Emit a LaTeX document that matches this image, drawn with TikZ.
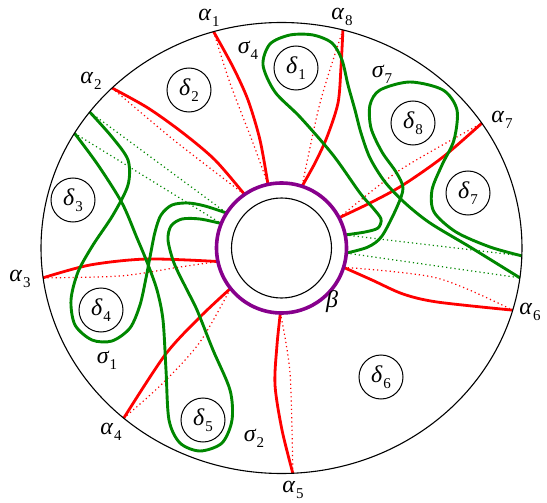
\documentclass[tikz,border=0pt]{standalone}
\usepackage{fontspec}
\setmainfont{Liberation Serif}
\usetikzlibrary{calc}
\definecolor{rd}{RGB}{255,0,0}
\definecolor{gr}{RGB}{0,135,0}
\definecolor{pu}{RGB}{135,0,140}
\newcommand\lab[2]{{\fontsize{24}{28}\selectfont\itshape #1}\kern1pt\raisebox{-6pt}{\fontsize{15}{18}\selectfont #2}}
\begin{document}
\begin{tikzpicture}[x=1pt,y=-1pt,
  redc/.style={draw=rd,line width=2.8pt},
  redd/.style={draw=rd,line width=1.2pt,dash pattern=on 1.2pt off 3pt},
  grc/.style={draw=gr,line width=2.9pt},
  grd/.style={draw=gr,line width=1.2pt,dash pattern=on 1.2pt off 3pt},
  dlt/.style={circle,draw,line width=1pt,minimum size=44pt,inner sep=0pt},
  lbl/.style={inner sep=0pt},
]
\useasboundingbox (0,0) rectangle (547,503);
\coordinate (O) at (281.5,248);
% points on the outer ellipse
\coordinate (A1o) at ($(O)+(-106.4:240.5 and 225.5)$);
\coordinate (A2o) at ($(O)+(-134.8:240.5 and 225.5)$);
\coordinate (A3o) at ($(O)+(172.4:240.5 and 225.5)$);
\coordinate (A4o) at ($(O)+(131:240.5 and 225.5)$);
\coordinate (A5o) at ($(O)+(87.3:240.5 and 225.5)$);
\coordinate (A6o) at ($(O)+(16:240.5 and 225.5)$);
\coordinate (A7o) at ($(O)+(-33.6:240.5 and 225.5)$);
\coordinate (A8o) at ($(O)+(-75.2:240.5 and 225.5)$);
\coordinate (S1o) at ($(O)+(-142.9:240.5 and 225.5)$);
\coordinate (S2o) at ($(O)+(-149.4:240.5 and 225.5)$);
\coordinate (S7o) at ($(O)+(2:240.5 and 225.5)$);
\coordinate (S4o) at ($(O)+(7.6:240.5 and 225.5)$);
% points on the purple circle
\coordinate (A1i) at ($(O)+(-102:65)$);
\coordinate (A2i) at ($(O)+(-124.6:65)$);
\coordinate (A3i) at ($(O)+(168:65)$);
\coordinate (A4i) at ($(O)+(141.6:65)$);
\coordinate (A5i) at ($(O)+(91:65)$);
\coordinate (A6i) at ($(O)+(17.3:65)$);
\coordinate (A7i) at ($(O)+(-27.7:65)$);
\coordinate (A8i) at ($(O)+(-71.6:65)$);
\coordinate (S1i) at ($(O)+(-147.5:65)$);
\coordinate (S2i) at ($(O)+(-157.9:65)$);
\coordinate (S4i) at ($(O)+(-11.6:65)$);
\coordinate (S7i) at ($(O)+(4.5:65)$);

% dotted companions
\draw[redd] plot[smooth] coordinates {(A1o) (230,83) (253,143) (A1i)};
\draw[redd] plot[smooth] coordinates {(A2o) (175,141) (A2i)};
\draw[redd] plot[smooth] coordinates {(A3o) (120,276) (180,267) (A3i)};
\draw[redd] plot[smooth] coordinates {(A4o) (163,383) (200,342) (A4i)};
\draw[redd] plot[smooth] coordinates {(A5i) (290,373) (A5o)};
\draw[redd] plot[smooth] coordinates {(A6i) (437,278) (A6o)};
\draw[redd] plot[smooth] coordinates {(A7i) (400,170) (A7o)};
\draw[redd] plot[smooth] coordinates {(A8o) (320,103) (A8i)};
\draw[grd] (S1o) -- (S1i);
\draw[grd] (S2o) -- (S2i);
\draw[grd] (S4i) -- (S7o);
\draw[grd] (S7i) -- (S4o);

% alpha arcs
\draw[redc] plot[smooth] coordinates {(A1o) (233,67) (248,100) (260,140) (A1i)};
\draw[redc] plot[smooth] coordinates {(A2o) (148,108) (183,133) (215,160) (A2i)};
\draw[redc] plot[smooth] coordinates {(A3o) (90,265) (147,259) (A3i)};
\draw[redc] plot[smooth] coordinates {(A4o) (165,355) (200,317) (A4i)};
\draw[redc] plot[smooth] coordinates {(A5i) (277,345) (275,385) (282,430) (A5o)};
\draw[redc] plot[smooth] coordinates {(A6i) (372,280) (403,294) (437,302) (A6o)};
\draw[redc] plot[smooth] coordinates {(A7i) (372,202) (403,185) (443,157) (A7o)};
\draw[redc] plot[smooth] coordinates {(A8o) (341,67) (338,103) (327,137) (315,163) (A8i)};

% sigma curves
\draw[grc] plot[smooth] coordinates {(S1o) (112,137) (128,160) (128,185) (113,215) (93,245) (78,272) (71,300) (75,325) (92,340) (112,341) (130,328) (140,305) (146,278) (150,257) (155,232) (161,215) (172,205) (188,203) (205,206) (S1i)};
\draw[grc] plot[smooth] coordinates {(S2o) (98,165) (122,203) (137,238) (147,262) (157,290) (163,320) (166,370) (169,420) (180,443) (200,451) (222,443) (232,420) (230,390) (213,350) (197,310) (186,288) (174,263) (168,240) (171,226) (182,219) (200,219) (S2i)};
\draw[grc] plot[smooth] coordinates {(S4i) (365,232) (378,228) (381,219) (373,208) (360,193) (333,155) (300,117) (275,92) (263,65) (270,44) (290,35) (313,35) (332,43) (342,60) (348,85) (355,110) (361,133) (370,158) (385,182) (405,203) (430,223) (470,247) (S4o)};
\draw[grc] plot[smooth] coordinates {(S7i) (368,247) (382,236) (397,207) (403,188) (396,172) (382,152) (371,128) (370,105) (380,90) (410,82) (443,90) (457,110) (454,140) (442,165) (432,190) (434,212) (456,232) (490,247) (S7o)};

% boundary
\draw[line width=1.1pt] (O) ellipse [x radius=240.5, y radius=225.5];
\draw[pu,line width=3.6pt] (O) circle [radius=65];
\draw[line width=1.1pt] (O) circle [radius=50];

% delta discs
\node[dlt] (d1) at (296,68) {\lab{δ}{1}};
\node[dlt] (d2) at (189,90) {\lab{δ}{2}};
\node[dlt] (d3) at (73,200) {\lab{δ}{3}};
\node[dlt] (d4) at (101,310) {\lab{δ}{4}};
\node[dlt] (d5) at (203,420) {\lab{δ}{5}};
\node[dlt] (d6) at (381,377) {\lab{δ}{6}};
\node[dlt] (d7) at (468,193) {\lab{δ}{7}};
\node[dlt] (d8) at (413,123) {\lab{δ}{8}};

% labels
\node[lbl] (l1) at (209,18) {\lab{α}{1}};
\node[lbl] (l2) at (91,81) {\lab{α}{2}};
\node[lbl] (l3) at (20,279) {\lab{α}{3}};
\node[lbl] (l4) at (111,432) {\lab{α}{4}};
\node[lbl] (l5) at (293,490) {\lab{α}{5}};
\node[lbl] (l6) at (530,312) {\lab{α}{6}};
\node[lbl] (l7) at (502,120) {\lab{α}{7}};
\node[lbl] (l8) at (342,17) {\lab{α}{8}};
\node[lbl] (s4) at (248,50) {\lab{σ}{4}};
\node[lbl] (s7) at (382,74) {\lab{σ}{7}};
\node[lbl] (s1) at (107,360) {\lab{σ}{1}};
\node[lbl] (s2) at (254,438) {\lab{σ}{2}};
\node[lbl,font=\fontsize{24}{28}\selectfont\itshape] (b) at (332,302) {β};
\end{tikzpicture}
\end{document}
